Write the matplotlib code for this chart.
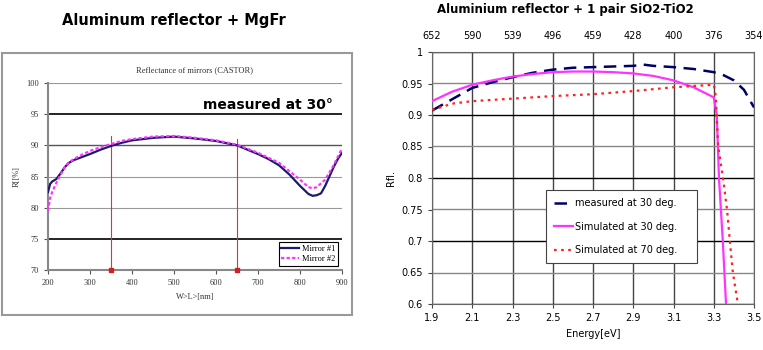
import numpy as np
import matplotlib.pyplot as plt
from matplotlib.patches import Rectangle

# left panel: reflectance of mirrors (CASTOR)
wl_m1 = [200, 205, 210, 220, 230, 240, 250, 260, 280, 300, 325, 350, 375, 400, 425, 450,
         500, 550, 600, 650, 700, 725, 750, 775, 800, 820, 830, 840, 850, 860, 870, 880, 890, 900]
r_m1 = [82.5, 83.8, 84.2, 84.6, 85.5, 86.5, 87.2, 87.6, 88.1, 88.6, 89.3, 89.9, 90.4, 90.8, 91.0, 91.2,
        91.4, 91.1, 90.7, 90.0, 88.6, 87.8, 86.8, 85.3, 83.5, 82.2, 81.9, 82.0, 82.3, 83.5, 85.0, 86.5, 87.8, 88.8]
wl_m2 = [200, 205, 210, 220, 230, 240, 250, 275, 300, 325, 350, 375, 400, 450, 500, 550, 600, 650,
         700, 750, 800, 820, 830, 840, 860, 880, 900]
r_m2 = [79.5, 81.5, 82.5, 84.0, 85.3, 86.5, 87.3, 88.3, 89.1, 89.7, 90.2, 90.7, 91.0, 91.4, 91.5, 91.2, 90.8, 90.1,
        88.8, 87.2, 84.5, 83.3, 83.1, 83.3, 84.5, 86.8, 89.5]
cut_wl = [350, 650]
cut_top = [91.5, 91.0]

# right panel: Aluminium reflector + 1 pair SiO2-TiO2
e_meas = [1.9, 2.0, 2.1, 2.2, 2.3, 2.4, 2.5, 2.6, 2.7, 2.8, 2.9, 2.95, 3.0, 3.1, 3.2, 3.3, 3.35, 3.4, 3.45, 3.5]
r_meas = [0.907, 0.925, 0.943, 0.952, 0.960, 0.967, 0.972, 0.975, 0.976, 0.977, 0.978, 0.980, 0.978,
          0.976, 0.973, 0.968, 0.963, 0.955, 0.940, 0.912]
e_sim30 = [1.9, 2.0, 2.1, 2.2, 2.3, 2.4, 2.5, 2.6, 2.7, 2.8, 2.9, 3.0, 3.1, 3.2, 3.3, 3.315, 3.326, 3.345, 3.361]
r_sim30 = [0.922, 0.937, 0.948, 0.955, 0.961, 0.965, 0.968, 0.969, 0.969, 0.968, 0.966, 0.962, 0.955,
           0.944, 0.928, 0.90, 0.80, 0.70, 0.60]
e_sim70 = [1.9, 2.0, 2.1, 2.3, 2.5, 2.7, 2.9, 3.0, 3.1, 3.2, 3.3, 3.31, 3.322, 3.346, 3.366, 3.38, 3.395, 3.42]
r_sim70 = [0.908, 0.918, 0.922, 0.926, 0.930, 0.933, 0.938, 0.941, 0.944, 0.946, 0.948, 0.93, 0.85,
           0.80, 0.75, 0.70, 0.65, 0.60]
e_ticks = [1.9, 2.1, 2.3, 2.5, 2.7, 2.9, 3.1, 3.3, 3.5]
wl_labels = ['652', '590', '539', '496', '459', '428', '400', '376', '354']

fig = plt.figure(figsize=(7.63, 3.5), dpi=100)

# ---- left chart ----
fig.patches.append(Rectangle((2/763, 1-315/350), 350/763, 262/350, transform=fig.transFigure,
                             fill=False, ec='#999999', lw=1.5))
fig.text(174/763, 1-21/350, 'Aluminum reflector + MgFr', ha='center', va='center',
         fontsize=10.5, fontweight='bold')
ax1 = fig.add_axes([48/763, 1-270/350, 294/763, 187/350])
serif = 'Liberation Serif'
for y, c, w in [(75, 'black', 1.2), (80, '#999999', 0.8), (85, '#999999', 0.8),
                (90, '#555555', 1.0), (95, 'black', 1.2), (100, '#999999', 0.8)]:
    ax1.axhline(y, color=c, lw=w, zorder=1)
for x, t in zip(cut_wl, cut_top):
    ax1.plot([x, x], [70, t], color='#e83030', lw=0.8, zorder=2)
    ax1.plot([x], [70], 's', color='#d02020', ms=3, zorder=4, clip_on=False)
ax1.plot(wl_m1, r_m1, color='#1a1a6e', lw=1.6, label='Mirror #1', zorder=3)
ax1.plot(wl_m2, r_m2, color='#ff33ff', lw=1.6, ls=(0, (1.5, 1)), label='Mirror #2', zorder=3)
ax1.set_xlim(200, 900)
ax1.set_ylim(70, 100)
ax1.set_xticks(range(200, 901, 100))
ax1.set_yticks(range(70, 101, 5))
for s in ['top', 'right']:
    ax1.spines[s].set_visible(False)
ax1.spines['left'].set_color('#888888')
ax1.spines['bottom'].set_color('#888888')
ax1.spines['left'].set_linewidth(1.5)
ax1.spines['bottom'].set_linewidth(1.5)
ax1.tick_params(labelsize=6, length=3, color='#555555', labelcolor='#333333')
for lb in ax1.get_xticklabels() + ax1.get_yticklabels():
    lb.set_family(serif)
ax1.set_title('Reflectance of mirrors (CASTOR)', fontsize=6, family=serif, color='#333333', pad=8)
ax1.set_xlabel('W>L>[nm]', fontsize=6, family=serif, color='#333333')
ax1.set_ylabel('R[[%]', fontsize=6, family=serif, color='#333333')
ax1.text(878, 95.3, 'measured at 30\u00b0', ha='right', va='bottom', fontsize=10, fontweight='bold')
leg1 = ax1.legend(loc='lower right', bbox_to_anchor=(1.0, 0.0), prop={'family': serif, 'size': 6},
                  fancybox=False, edgecolor='black', handlelength=2.2, borderpad=0.3,
                  labelspacing=0.3, handletextpad=0.3, framealpha=1)
leg1.get_frame().set_linewidth(0.8)

# ---- right chart ----
ax2 = fig.add_axes([432/763, 1-304/350, 322/763, 252/350])
for x in e_ticks:
    ax2.axvline(x, color='#444444', lw=1.0, zorder=1)
for y in np.arange(0.6, 1.001, 0.05):
    major = abs(round(y * 100) % 10) == 0
    ax2.axhline(y, color='black' if major else '#888888', lw=1.0, zorder=1)
ax2.plot(e_meas, r_meas, color='#000066', lw=1.8, ls=(0, (5, 3)), label='measured at 30 deg.', zorder=3)
ax2.plot(e_sim30, r_sim30, color='#ff33ff', lw=1.6, label='Simulated at 30 deg.', zorder=3)
ax2.plot(e_sim70, r_sim70, color='#ff2222', lw=1.6, ls=(0, (1.2, 2)), label='Simulated at 70 deg.', zorder=3)
ax2.set_xlim(1.9, 3.5)
ax2.set_ylim(0.6, 1.0)
ax2.set_xticks(e_ticks)
ax2.set_xticklabels([f'{v:.1f}' for v in e_ticks])
ax2.set_yticks([0.6, 0.65, 0.7, 0.75, 0.8, 0.85, 0.9, 0.95, 1.0])
ax2.set_yticklabels(['0.6', '0.65', '0.7', '0.75', '0.8', '0.85', '0.9', '0.95', '1'])
for s in ax2.spines.values():
    s.set_color('#666666')
ax2.tick_params(labelsize=7, length=3, color='#444444')
top = ax2.twiny()
top.set_xlim(1.9, 3.5)
top.set_xticks(e_ticks)
top.set_xticklabels(wl_labels)
top.tick_params(labelsize=7, length=0, pad=8)
for s in top.spines.values():
    s.set_visible(False)
ax2.set_xlabel('Energy[eV]', fontsize=7, labelpad=4)
ax2.set_ylabel('Rfl.', fontsize=7, labelpad=4)
fig.text(565/763, 1-9/350, 'Aluminium reflector + 1 pair SiO2-TiO2', ha='center', va='center',
         fontsize=8.5, fontweight='bold')
leg2 = ax2.legend(loc='lower left', bbox_to_anchor=(0.354, 0.163, 0.47, 0.285), mode='expand',
                  fontsize=7, fancybox=False, edgecolor='#444444', handlelength=2.0,
                  labelspacing=1.4, borderpad=0.8, handletextpad=0.2, borderaxespad=0,
                  framealpha=1)
leg2.get_frame().set_linewidth(0.8)

fig.savefig('out.png', dpi=100)
